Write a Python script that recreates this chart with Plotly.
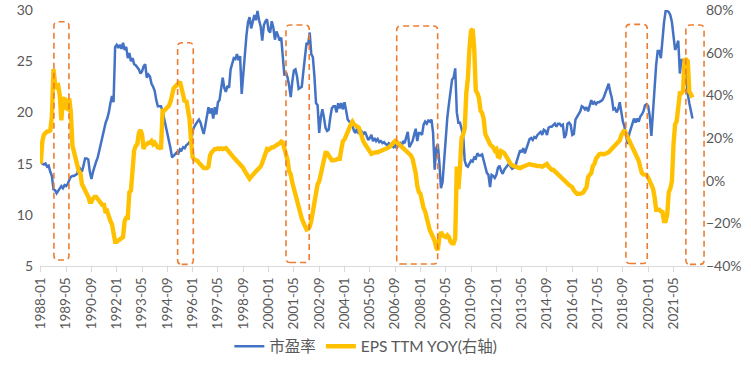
import plotly.graph_objects as go

# ---------------- data (monthly, 1988-01 .. 2022-05) ----------------
pe_ratio = [
    15.3, 15.0, 14.9, 15.0, 14.7, 14.8, 14.2, 13.8, 12.5, 12.4, 12.1, 12.3,  # 1988
    12.5, 12.8, 12.6, 12.9, 12.8, 13.0, 13.4, 13.7, 13.8, 13.8, 13.9, 14.0,  # 1989
    14.7, 14.4, 14.2, 14.8, 15.5, 15.5, 15.4, 14.2, 13.5, 14.2, 14.8, 15.2,  # 1990
    15.6, 16.3, 17.0, 17.7, 18.5, 19.0, 19.4, 20.0, 20.9, 21.6, 21.0, 26.4,  # 1991
    26.6, 26.3, 26.6, 26.2, 26.8, 26.1, 26.4, 25.3, 25.8, 25.0, 25.3, 24.7,  # 1992
    24.6, 24.4, 24.2, 23.8, 24.0, 24.5, 24.7, 23.4, 23.7, 23.5, 22.8, 22.5,  # 1993
    22.1, 21.2, 20.6, 20.6, 20.6, 20.1, 19.4, 18.6, 18.1, 17.4, 16.5, 15.6,  # 1994
    15.8, 16.0, 16.1, 16.0, 16.4, 16.3, 16.6, 16.5, 16.8, 16.9, 17.1, 17.0,  # 1995
    18.2, 18.6, 18.9, 19.1, 19.3, 19.0, 18.4, 17.9, 18.7, 19.5, 20.5, 19.9,  # 1996
    20.4, 19.4, 20.5, 19.8, 21.0, 21.2, 22.2, 23.4, 22.4, 22.0, 22.6, 22.4,  # 1997
    24.2, 24.9, 25.3, 25.2, 25.7, 25.1, 25.5, 21.8, 24.0, 26.0, 27.5, 28.8,  # 1998
    29.3, 28.2, 28.9, 29.5, 29.0, 29.9, 29.0, 28.4, 27.0, 28.5, 28.9, 29.1,  # 1999
    28.0, 27.8, 28.9, 28.3, 27.1, 27.9, 27.5, 27.0, 27.3, 25.8, 23.6, 23.9,  # 2000
    23.4, 22.6, 21.5, 23.0, 24.1, 24.2, 23.5, 22.3, 22.4, 22.5, 24.0, 25.8,  # 2001
    26.8, 26.6, 27.8, 25.7, 25.4, 23.5, 20.9, 20.7, 18.0, 19.5, 20.3, 19.5,  # 2002
    18.5, 18.2, 18.3, 19.5, 20.4, 20.6, 20.6, 20.0, 20.9, 20.4, 20.9, 20.3,  # 2003
    21.0, 20.2, 19.3, 19.1, 19.0, 18.7, 18.2, 18.0, 18.5, 17.9, 18.3, 18.1,  # 2004
    17.9, 18.1, 17.6, 17.3, 17.5, 17.8, 17.2, 17.5, 17.2, 17.4, 17.1, 17.2,  # 2005
    17.0, 17.1, 16.9, 16.8, 17.0, 16.9, 16.7, 16.6, 16.8, 16.5, 16.9, 17.0,  # 2006
    16.6, 17.2, 17.0, 17.5, 18.1, 16.6, 16.9, 17.2, 17.8, 18.4, 17.2, 18.0,  # 2007
    18.0, 17.8, 18.8, 19.1, 18.9, 19.2, 19.1, 19.3, 18.0, 14.4, 16.5, 16.9,  # 2008
    15.0, 12.6, 13.2, 15.5, 17.2, 19.5, 20.8, 22.3, 23.2, 23.4, 24.3, 20.0,  # 2009
    19.0, 19.0, 18.5, 17.8, 15.3, 14.8, 14.7, 15.0, 15.3, 15.2, 15.6, 15.5,  # 2010
    16.0, 15.8, 15.8, 15.9, 15.3, 14.8, 14.1, 13.9, 12.7, 13.9, 13.8, 13.6,  # 2011
    13.9, 14.6, 14.8, 14.3, 14.0, 14.4, 14.6, 14.8, 15.0, 14.7, 14.5, 14.6,  # 2012
    14.7, 15.3, 15.9, 16.3, 16.1, 16.5, 16.0, 16.4, 17.0, 17.4, 17.5, 17.3,  # 2013
    17.6, 17.5, 17.8, 18.0, 18.1, 17.8, 18.3, 18.2, 17.8, 18.5, 18.6, 18.6,  # 2014
    18.8, 18.9, 18.6, 18.9, 18.9, 18.7, 18.8, 17.5, 17.8, 18.9, 19.0, 18.8,  # 2015
    17.8, 17.9, 19.3, 19.6, 19.9, 20.1, 20.6, 20.5, 20.3, 20.5, 20.1, 20.8,  # 2016
    21.2, 20.8, 21.0, 20.8, 21.0, 21.0, 21.1, 21.2, 21.5, 21.9, 22.3, 22.8,  # 2017
    22.0, 21.4, 20.3, 20.4, 20.0, 20.3, 21.0, 20.0, 19.1, 18.6, 17.8, 16.9,  # 2018
    17.9, 18.4, 18.8, 19.4, 19.0, 19.4, 19.1, 19.6, 19.8, 20.1, 20.7, 20.8,  # 2019
    20.6, 19.6, 17.7, 20.0, 23.0, 24.6, 26.0, 26.0, 25.3, 27.2, 28.8, 29.9,  # 2020
    29.9, 29.8, 29.5, 28.8, 27.6, 26.1, 26.5, 27.0, 23.8, 25.2, 25.0, 24.8,  # 2021
    23.6, 21.8, 20.9, 20.2, 19.4,                                            # 2022
]

eps_ttm_yoy = [
    8.0, 18.6, 21.6, 22.8, 23.1, 23.1, 23.5, 30.0, 52.3, 45.5, 44.0, 44.5,  # 1988
    40.0, 28.3, 38.1, 38.8, 34.0, 33.6, 38.5, 32.0, 16.5, 13.5, 10.0, 6.0,  # 1989
    4.4, 3.6, -1.6, -3.1, -4.6, -5.4, -7.6, -9.9, -9.9, -8.4, -7.6, -7.6,  # 1990
    -8.4, -9.1, -9.9, -11.4, -11.4, -15.1, -14.4, -17.4, -18.9, -20.4, -26.4, -28.6,  # 1991
    -28.6, -27.9, -27.1, -27.1, -26.4, -18.9, -17.4, -17.4, -5.4, -4.6, 5.1, 14.1,  # 1992
    16.3, 17.1, 22.3, 23.8, 21.6, 14.8, 17.1, 17.1, 17.8, 17.8, 18.6, 17.1,  # 1993
    17.8, 16.3, 15.6, 15.6, 14.8, 32.8, 32.8, 33.6, 34.3, 35.1, 37.0, 41.8,  # 1994
    43.3, 44.1, 44.8, 45.5, 46.3, 43.3, 39.6, 36.9, 37.8, 32.4, 29.1, 18.6,  # 1995
    11.1, 9.9, 9.6, 9.3, 8.4, 7.3, 6.6, 5.9, 5.9, 5.9, 6.6, 11.8,  # 1996
    13.3, 14.4, 14.8, 14.8, 15.1, 14.8, 15.1, 14.8, 15.3, 15.3, 14.4, 13.3,  # 1997
    12.9, 11.8, 10.8, 10.0, 9.3, 8.1, 7.3, 6.6, 5.9, 4.4, 2.9, 1.4,  # 1998
    0.9, 1.8, 2.9, 3.6, 4.4, 5.1, 5.9, 6.6, 8.4, 10.8, 12.9, 14.8,  # 1999
    14.4, 15.3, 15.6, 15.6, 16.3, 16.8, 17.1, 17.5, 18.3, 17.8, 14.8, 11.1,  # 2000
    9.6, 4.4, 2.9, -0.9, -3.9, -6.1, -8.4, -11.4, -15.1, -17.8, -19.6, -21.9,  # 2001
    -22.9, -22.6, -21.6, -18.9, -14.4, -11.7, -6.1, -1.6, -0.4, 2.9, 7.3, 11.1,  # 2002
    13.0, 12.9, 12.0, 10.3, 9.6, 9.6, 9.6, 9.9, 10.3, 10.3, 14.8, 18.6,  # 2003
    19.3, 21.6, 22.8, 24.6, 26.4, 27.6, 26.4, 25.6, 25.3, 24.9, 22.3, 20.4,  # 2004
    18.3, 17.1, 15.9, 14.8, 13.8, 12.6, 12.9, 13.3, 13.3, 13.3, 13.6, 13.8,  # 2005
    14.1, 14.4, 14.8, 15.3, 15.6, 16.2, 17.1, 17.8, 18.6, 18.1, 17.4, 16.3,  # 2006
    15.6, 14.8, 14.4, 13.8, 13.0, 12.3, 11.8, 10.3, 7.3, 3.6, -2.4, -5.4,  # 2007
    -6.1, -9.9, -12.9, -14.4, -18.1, -21.1, -23.4, -24.9, -26.4, -28.2, -31.5, -32.5,  # 2008
    -26.4, -24.1, -25.6, -26.1, -26.4, -25.6, -26.4, -28.6, -29.4, -29.4, -27.0, 6.6,  # 2009
    -4.0, 6.0, 20.0, 21.6, 24.5, 41.0, 48.0, 62.0, 70.3, 71.0, 62.0, 42.2,  # 2010
    41.0, 38.8, 32.8, 31.8, 28.8, 21.9, 19.8, 18.3, 17.1, 16.3, 15.6, 14.1,  # 2011
    14.7, 11.4, 11.1, 13.8, 13.5, 12.9, 11.7, 10.2, 8.8, 7.9, 7.2, 6.6,  # 2012
    6.6, 6.3, 5.9, 5.9, 6.3, 6.6, 6.9, 7.3, 7.3, 7.8, 7.5, 7.3,  # 2013
    6.9, 6.9, 6.9, 6.9, 6.7, 6.6, 7.0, 7.6, 7.8, 6.6, 5.4, 5.1,  # 2014
    5.1, 4.4, 3.6, 2.9, 2.9, 2.1, 1.4, 0.3, -0.6, -1.3, -2.1, -2.7,  # 2015
    -3.1, -4.6, -5.7, -6.1, -6.1, -6.1, -6.0, -5.4, -3.9, -3.1, 1.8, 2.7,  # 2016
    3.6, 6.9, 7.8, 10.3, 11.5, 12.3, 12.6, 12.4, 12.4, 12.6, 12.7, 13.3,  # 2017
    14.1, 14.8, 15.6, 16.3, 17.1, 18.3, 18.9, 21.3, 22.8, 23.8, 21.9, 20.4,  # 2018
    18.9, 17.1, 15.6, 14.4, 12.3, 10.8, 9.3, 6.3, 3.6, 2.9, 2.9, 2.7,  # 2019
    1.4, -0.6, -1.6, -3.6, -7.6, -13.6, -13.6, -13.6, -14.4, -14.7, -18.9, -18.9,  # 2020
    -15.9, -5.4, -3.6, -0.1, 17.1, 26.4, 27.9, 36.6, 41.0, 41.0, 42.0, 56.5,  # 2021
    56.8, 56.0, 41.8, 40.5, 39.0,  # 2022
]

tick_labels = ["1988-01", "1989-05", "1990-09", "1992-01", "1993-05", "1994-09",
               "1996-01", "1997-05", "1998-09", "2000-01", "2001-05", "2002-09",
               "2004-01", "2005-05", "2006-09", "2008-01", "2009-05", "2010-09",
               "2012-01", "2013-05", "2014-09", "2016-01", "2017-05", "2018-09",
               "2020-01", "2021-05"]

series_names = ["市盈率", "EPS TTM YOY(右轴)"]

# highlighted periods (month index start/end, left-axis bottom/top)
box_x0 = [8.3, 86.5, 155.0, 225.0, 369.9, 407.8]
box_x1 = [17.8, 96.4, 169.7, 250.9, 383.4, 419.3]
box_y0 = [5.59, 5.16, 5.34, 5.19, 5.25, 5.16]
box_y1 = [28.85, 26.8, 28.53, 28.44, 28.6, 28.53]

# ---------------- figure ----------------
months = [f"{y}-{m:02d}" for y in range(1988, 2023) for m in range(1, 13)]
x_idx = list(range(len(pe_ratio)))
tick_vals = [months.index(t) for t in tick_labels]

FONT = "Lato, 'Noto Sans CJK SC', sans-serif"
GREY = "#595959"

fig = go.Figure()
fig.add_trace(go.Scatter(x=x_idx, y=pe_ratio, mode="lines", name=series_names[0],
                         line=dict(color="#4472C4", width=2.5), yaxis="y"))
fig.add_trace(go.Scatter(x=list(range(len(eps_ttm_yoy))), y=eps_ttm_yoy, mode="lines",
                         name=series_names[1],
                         line=dict(color="#FFC000", width=4.4), yaxis="y2"))

# rounded dashed rectangles
rx, ry = 2.6, 0.4
for x0, x1, y0, y1 in zip(box_x0, box_x1, box_y0, box_y1):
    path = (f"M {x0+rx},{y0} L {x1-rx},{y0} Q {x1},{y0} {x1},{y0+ry} "
            f"L {x1},{y1-ry} Q {x1},{y1} {x1-rx},{y1} L {x0+rx},{y1} "
            f"Q {x0},{y1} {x0},{y1-ry} L {x0},{y0+ry} Q {x0},{y0} {x0+rx},{y0} Z")
    fig.add_shape(type="path", path=path, xref="x", yref="y",
                  line=dict(color="#ED7D31", width=1.6, dash="6px,4px"),
                  fillcolor="rgba(0,0,0,0)", layer="above")

fig.update_layout(
    width=751, height=373,
    margin=dict(l=40, r=46, t=10, b=96),
    paper_bgcolor="white", plot_bgcolor="white",
    font=dict(family=FONT, color=GREY, size=14),
    showlegend=True,
    legend=dict(orientation="h", x=0.49, xanchor="center", y=-0.315, yanchor="middle",
                font=dict(size=15.5, color=GREY, family=FONT), itemwidth=30,
                bgcolor="rgba(0,0,0,0)"),
    xaxis=dict(range=[-0.5, 419.9], tickmode="array", tickvals=tick_vals,
               ticktext=tick_labels, tickangle=-90, showgrid=False, zeroline=False,
               showline=True, linecolor="#D9D9D9", linewidth=1,
               ticks="outside", ticklen=5, tickcolor="#D9D9D9",
               tickfont=dict(size=13.5, color=GREY, family=FONT), automargin=False),
    yaxis=dict(range=[5, 30], dtick=5, showgrid=False, zeroline=False, showline=False,
               tickfont=dict(size=14, color=GREY, family=FONT), ticklabelstandoff=6,
               automargin=False),
    yaxis2=dict(range=[-40, 80], dtick=20, overlaying="y", side="right",
                showgrid=False, zeroline=False, showline=False, ticksuffix="%",
                tickfont=dict(size=14, color=GREY, family=FONT), automargin=False),
)

fig.write_html("out.html", config={"displayModeBar": False},
               post_script="document.body.style.margin='0';document.body.style.overflow='hidden';")
